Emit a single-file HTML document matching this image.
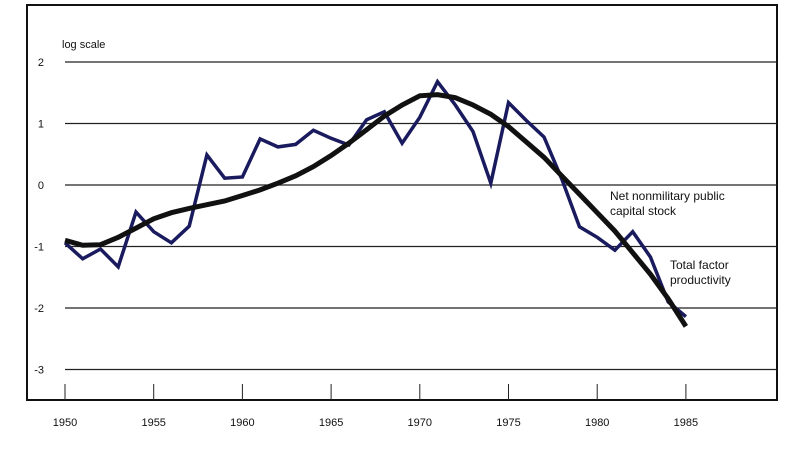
<!DOCTYPE html>
<html><head><meta charset="utf-8"><style>
body{margin:0;background:#fff;}
svg{display:block;font-family:"Liberation Sans",Arial,sans-serif;}
</style></head><body>
<svg id="chart" width="800" height="455" viewBox="0 0 800 455">
<rect x="27" y="5" width="750" height="395" fill="none" stroke="#111" stroke-width="2"/>
<text x="62" y="48" font-size="11" fill="#111">log scale</text>
<g id="grid"></g><g id="xaxis"></g><g id="series"></g>
<text font-size="12" fill="#111"><tspan x="610" y="200">Net nonmilitary public</tspan><tspan x="610" y="215">capital stock</tspan></text>
<text font-size="12" fill="#111"><tspan x="670" y="269">Total factor</tspan><tspan x="670" y="284">productivity</tspan></text>
</svg>
<script>
const years=[];for(let y=1950;y<=1985;y++)years.push(y);
const tfp=[-0.94,-1.2,-1.04,-1.33,-0.44,-0.76,-0.94,-0.67,0.49,0.11,0.13,0.75,0.62,0.66,0.89,0.76,0.65,1.06,1.19,0.68,1.1,1.68,1.3,0.87,0.03,1.34,1.05,0.78,0.1,-0.68,-0.85,-1.06,-0.76,-1.17,-1.9,-2.14];
const capital=[-0.9,-0.98,-0.97,-0.85,-0.7,-0.55,-0.45,-0.38,-0.32,-0.26,-0.17,-0.08,0.03,0.15,0.3,0.48,0.68,0.9,1.12,1.3,1.45,1.47,1.42,1.3,1.15,0.95,0.7,0.45,0.15,-0.15,-0.45,-0.75,-1.1,-1.45,-1.85,-2.3];
const yTicks=[2,1,0,-1,-2,-3];
const xTicks=[1950,1955,1960,1965,1970,1975,1980,1985];
const NS="http://www.w3.org/2000/svg";
const xs=y=>65+(y-1950)*17.74;
const ys=v=>185-v*61.5;
function mk(t,a,p){const e=document.createElementNS(NS,t);for(const k in a)e.setAttribute(k,a[k]);p.appendChild(e);return e;}
const grid=document.getElementById('grid');
yTicks.forEach(v=>{
 const l=mk('line',{x1:xs(1950),x2:777,y1:ys(v),y2:ys(v),stroke:'#222','stroke-width':1.3},grid);
 
 
 const t=mk('text',{x:44,y:ys(v)+4,'font-size':11,'text-anchor':'end',fill:'#111'},grid);t.textContent=v;
 
 
});
const xa=document.getElementById('xaxis');
xTicks.forEach(y=>{
 const l=mk('line',{x1:xs(y),x2:xs(y),y1:384,y2:400,stroke:'#222','stroke-width':1},xa);
 
 
 const t=mk('text',{x:xs(y),y:426,'font-size':11,'text-anchor':'middle',fill:'#111'},xa);t.textContent=y;
 
 
});
const sg=document.getElementById('series');
function line(vals,color,w,name){
 const d=vals.map((v,i)=>(i?'L':'M')+xs(years[i]).toFixed(1)+' '+ys(v).toFixed(1)).join(' ');
 const p=mk('path',{d:d,fill:'none',stroke:color,'stroke-width':w,'stroke-linejoin':'miter'},sg);
 
 
}
line(tfp,'#1a1a5e',3.5,'tfp-line');
line(capital,'#111',5,'capital-stock-line');
</script>
</body></html>
